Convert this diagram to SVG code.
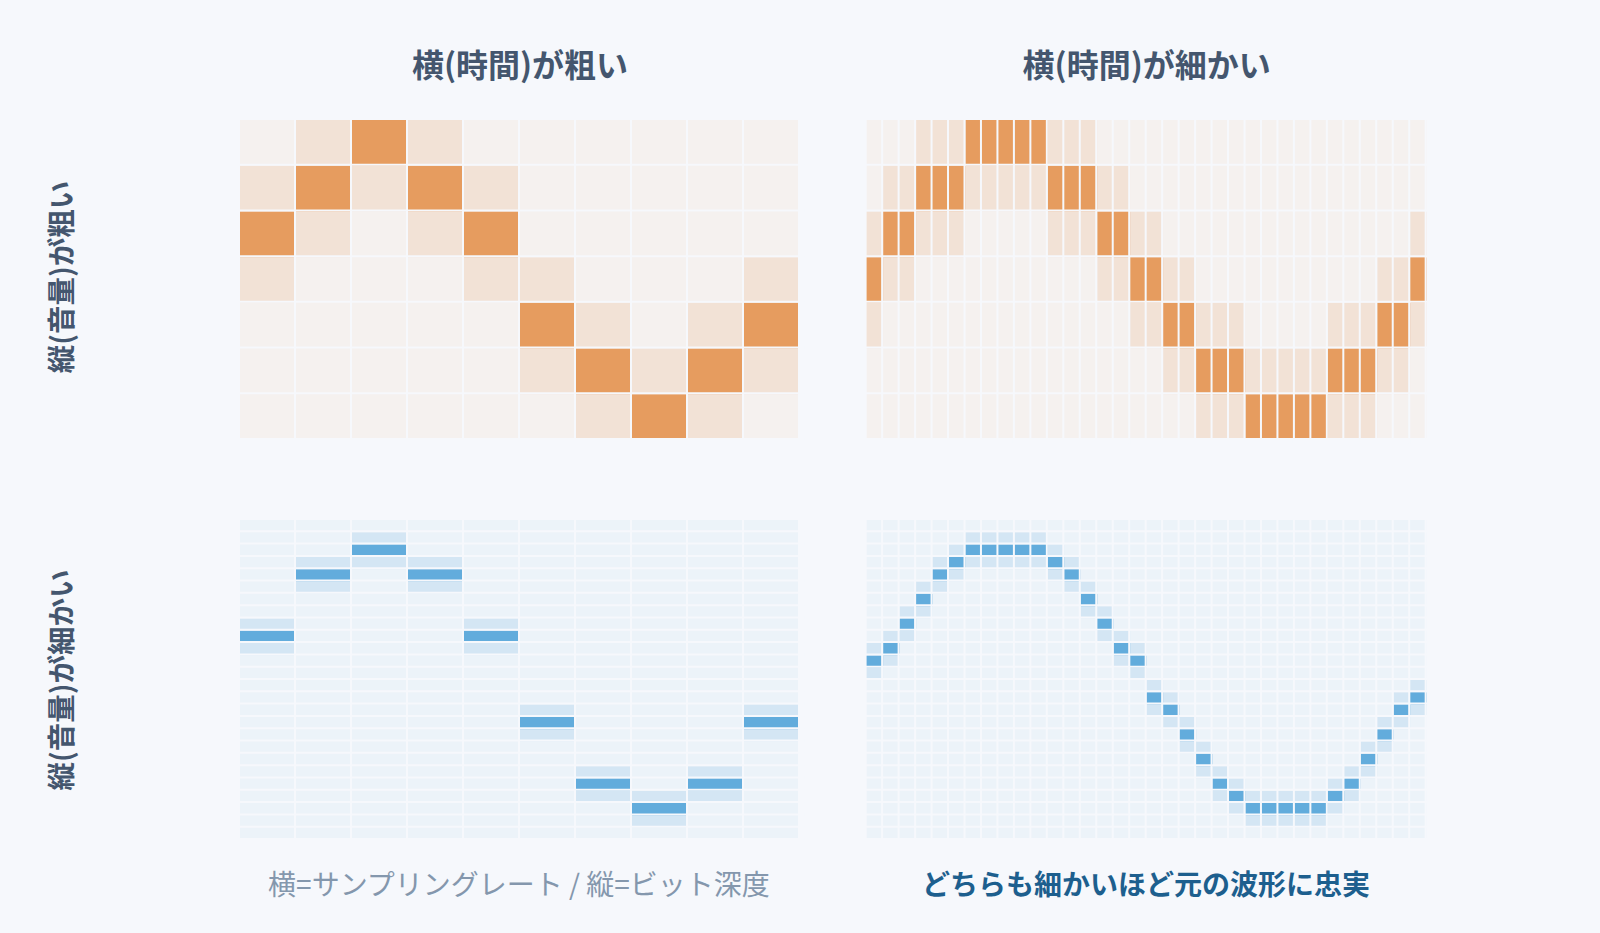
<svg xmlns="http://www.w3.org/2000/svg" width="1600" height="933" viewBox="0 0 1600 933">
<style>
.bg{fill:#f6f8fc}
.ob{fill:#f5f1ef}.ol{fill:#f2e2d6}.od{fill:#e69c5f}
.bb{fill:#ecf3f9}.bl{fill:#d4e6f4}.bd{fill:#62acdc}
.gap{fill:none;stroke:#f6f8fc;stroke-width:2;vector-effect:non-scaling-stroke}
.t{font-family:'Noto Sans CJK JP','Noto Sans',sans-serif;text-anchor:middle}
.title{font-size:32px;font-weight:700;fill:#44566e}
.side{font-size:28.5px;font-weight:700;fill:#44566e}
.note{font-size:28px;font-weight:400;fill:#8497ad}
.em{font-size:28px;font-weight:700;fill:#1d5f8e}
</style>
<rect class="bg" x="0" y="0" width="1600" height="933"/>

<g id="titles">
<text class="t title" x="520" y="76.5">横(時間)が粗い</text>
<text class="t title" x="1146.67" y="76.5">横(時間)が細かい</text>
<text class="t side" transform="translate(72 277) rotate(-90)">縦(音量)が粗い</text>
<text class="t side" transform="translate(72 680) rotate(-90)">縦(音量)が細かい</text>
</g>

<g id="grid-coarse-coarse" transform="translate(240 120)">
<g transform="scale(56 45.7143)">
<rect class="ob" width="10" height="7"/>
<path class="ol" d="M0 1h1v3h-1zM1 0h1v3h-1zM2 0h1v2h-1zM3 0h1v3h-1zM4 1h1v3h-1zM5 3h1v3h-1zM6 4h1v3h-1zM7 5h1v2h-1zM8 4h1v3h-1zM9 3h1v3h-1z"/>
<path class="od" d="M0 2h1v1h-1zM1 1h1v1h-1zM2 0h1v1h-1zM3 1h1v1h-1zM4 2h1v1h-1zM5 4h1v1h-1zM6 5h1v1h-1zM7 6h1v1h-1zM8 5h1v1h-1zM9 4h1v1h-1z"/>
</g>
<g transform="translate(-1 -1) scale(56 45.7143)">
<path class="gap" d="M1 0V7.1M2 0V7.1M3 0V7.1M4 0V7.1M5 0V7.1M6 0V7.1M7 0V7.1M8 0V7.1M9 0V7.1M10 0V7.1M0 1H10.1M0 2H10.1M0 3H10.1M0 4H10.1M0 5H10.1M0 6H10.1M0 7H10.1"/>
</g>
</g>

<g id="grid-fine-coarse" transform="translate(866.67 120)">
<g transform="scale(16.4706 45.7143)">
<rect class="ob" width="34" height="7"/>
<path class="ol" d="M0 2h1v3h-1zM1 1h2v3h-2zM3 0h3v3h-3zM6 0h5v2h-5zM11 0h3v3h-3zM14 1h2v3h-2zM16 2h2v3h-2zM18 3h2v3h-2zM20 4h3v3h-3zM23 5h5v2h-5zM28 4h3v3h-3zM31 3h2v3h-2zM33 2h1v3h-1z"/>
<path class="od" d="M0 3h1v1h-1zM1 2h2v1h-2zM3 1h3v1h-3zM6 0h5v1h-5zM11 1h3v1h-3zM14 2h2v1h-2zM16 3h2v1h-2zM18 4h2v1h-2zM20 5h3v1h-3zM23 6h5v1h-5zM28 5h3v1h-3zM31 4h2v1h-2zM33 3h1v1h-1z"/>
</g>
<g transform="translate(-1 -1) scale(16.4706 45.7143)">
<path class="gap" d="M1 0V7.1M2 0V7.1M3 0V7.1M4 0V7.1M5 0V7.1M6 0V7.1M7 0V7.1M8 0V7.1M9 0V7.1M10 0V7.1M11 0V7.1M12 0V7.1M13 0V7.1M14 0V7.1M15 0V7.1M16 0V7.1M17 0V7.1M18 0V7.1M19 0V7.1M20 0V7.1M21 0V7.1M22 0V7.1M23 0V7.1M24 0V7.1M25 0V7.1M26 0V7.1M27 0V7.1M28 0V7.1M29 0V7.1M30 0V7.1M31 0V7.1M32 0V7.1M33 0V7.1M34 0V7.1M0 1H34.2M0 2H34.2M0 3H34.2M0 4H34.2M0 5H34.2M0 6H34.2M0 7H34.2"/>
</g>
</g>

<g id="grid-coarse-fine" transform="translate(240 520)">
<g transform="scale(56 12.3077)">
<rect class="bb" width="10" height="26"/>
<path class="bl" d="M0 8h1v3h-1zM1 3h1v3h-1zM2 1h1v3h-1zM3 3h1v3h-1zM4 8h1v3h-1zM5 15h1v3h-1zM6 20h1v3h-1zM7 22h1v3h-1zM8 20h1v3h-1zM9 15h1v3h-1z"/>
<path class="bd" d="M0 9h1v1h-1zM1 4h1v1h-1zM2 2h1v1h-1zM3 4h1v1h-1zM4 9h1v1h-1zM5 16h1v1h-1zM6 21h1v1h-1zM7 23h1v1h-1zM8 21h1v1h-1zM9 16h1v1h-1z"/>
</g>
<g transform="translate(-1 -1) scale(56 12.3077)">
<path class="gap" d="M1 0V26.2M2 0V26.2M3 0V26.2M4 0V26.2M5 0V26.2M6 0V26.2M7 0V26.2M8 0V26.2M9 0V26.2M10 0V26.2M0 1H10.1M0 2H10.1M0 3H10.1M0 4H10.1M0 5H10.1M0 6H10.1M0 7H10.1M0 8H10.1M0 9H10.1M0 10H10.1M0 11H10.1M0 12H10.1M0 13H10.1M0 14H10.1M0 15H10.1M0 16H10.1M0 17H10.1M0 18H10.1M0 19H10.1M0 20H10.1M0 21H10.1M0 22H10.1M0 23H10.1M0 24H10.1M0 25H10.1M0 26H10.1"/>
</g>
</g>

<g id="grid-fine-fine" transform="translate(866.67 520)">
<g transform="scale(16.4706 12.3077)">
<rect class="bb" width="34" height="26"/>
<path class="bl" d="M0 10h1v3h-1zM1 9h1v3h-1zM2 7h1v3h-1zM3 5h1v3h-1zM4 3h1v3h-1zM5 2h1v3h-1zM6 1h5v3h-5zM11 2h1v3h-1zM12 3h1v3h-1zM13 5h1v3h-1zM14 7h1v3h-1zM15 9h1v3h-1zM16 10h1v3h-1zM17 13h1v3h-1zM18 14h1v3h-1zM19 16h1v3h-1zM20 18h1v3h-1zM21 20h1v3h-1zM22 21h1v3h-1zM23 22h5v3h-5zM28 21h1v3h-1zM29 20h1v3h-1zM30 18h1v3h-1zM31 16h1v3h-1zM32 14h1v3h-1zM33 13h1v3h-1z"/>
<path class="bd" d="M0 11h1v1h-1zM1 10h1v1h-1zM2 8h1v1h-1zM3 6h1v1h-1zM4 4h1v1h-1zM5 3h1v1h-1zM6 2h5v1h-5zM11 3h1v1h-1zM12 4h1v1h-1zM13 6h1v1h-1zM14 8h1v1h-1zM15 10h1v1h-1zM16 11h1v1h-1zM17 14h1v1h-1zM18 15h1v1h-1zM19 17h1v1h-1zM20 19h1v1h-1zM21 21h1v1h-1zM22 22h1v1h-1zM23 23h5v1h-5zM28 22h1v1h-1zM29 21h1v1h-1zM30 19h1v1h-1zM31 17h1v1h-1zM32 15h1v1h-1zM33 14h1v1h-1z"/>
</g>
<g transform="translate(-1 -1) scale(16.4706 12.3077)">
<path class="gap" d="M1 0V26.2M2 0V26.2M3 0V26.2M4 0V26.2M5 0V26.2M6 0V26.2M7 0V26.2M8 0V26.2M9 0V26.2M10 0V26.2M11 0V26.2M12 0V26.2M13 0V26.2M14 0V26.2M15 0V26.2M16 0V26.2M17 0V26.2M18 0V26.2M19 0V26.2M20 0V26.2M21 0V26.2M22 0V26.2M23 0V26.2M24 0V26.2M25 0V26.2M26 0V26.2M27 0V26.2M28 0V26.2M29 0V26.2M30 0V26.2M31 0V26.2M32 0V26.2M33 0V26.2M34 0V26.2M0 1H34.2M0 2H34.2M0 3H34.2M0 4H34.2M0 5H34.2M0 6H34.2M0 7H34.2M0 8H34.2M0 9H34.2M0 10H34.2M0 11H34.2M0 12H34.2M0 13H34.2M0 14H34.2M0 15H34.2M0 16H34.2M0 17H34.2M0 18H34.2M0 19H34.2M0 20H34.2M0 21H34.2M0 22H34.2M0 23H34.2M0 24H34.2M0 25H34.2M0 26H34.2"/>
</g>
</g>

<g id="captions">
<text class="t note" x="519" y="895">横=サンプリングレート / 縦=ビット深度</text>
<text class="t em" x="1146" y="895">どちらも細かいほど元の波形に忠実</text>
</g>
</svg>
